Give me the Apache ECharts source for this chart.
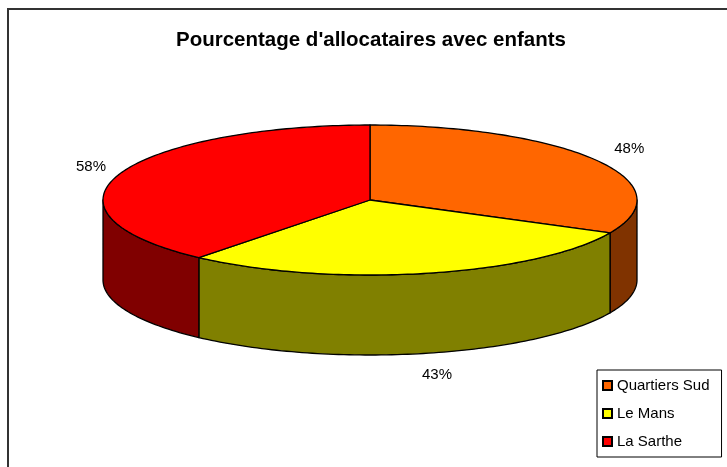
<!DOCTYPE html>
<html>
<head>
<meta charset="utf-8">
<script src="https://cdn.jsdelivr.net/npm/echarts@6/dist/echarts.min.js"></script>
<style>
  html, body { margin: 0; padding: 0; background: #fff; }
  #chart { width: 727px; height: 467px; }
</style>
</head>
<body>
<div id="chart"></div>
<script>
const categories = ['Quartiers Sud', 'Le Mans', 'La Sarthe'];
const values = [48, 43, 58];
const labels = ['48%', '43%', '58%'];
const topColors = ['#ff6600', '#ffff00', '#ff0000'];
const sideColors = ['#803300', '#808000', '#800000'];

// thickness of the disc, in units of the vertical radius
const DEPTH = 80 / 75;
const total = values.reduce((a, b) => a + b, 0);

function arcPoints(api, from, to, dy) {
    let pts = [];
    let steps = Math.max(2, Math.ceil((to - from) / 0.02));
    for (let i = 0; i <= steps; ++i) {
        let th = from + (to - from) * i / steps;
        pts.push(api.coord([Math.sin(th), Math.cos(th) + dy]));
    }
    return pts;
}

function makeRenderItem(idx) {
    return function (params, api) {
        let a0 = api.value(0) / total * Math.PI * 2;
        let a1 = api.value(1) / total * Math.PI * 2;
        let children = [];
        let lineStyle = { stroke: '#000', lineWidth: 1.3, lineJoin: 'round' };

        // front wall
        let s = Math.max(a0, Math.PI / 2), e = Math.min(a1, Math.PI * 3 / 2);
        if (s < e) {
            let pts = arcPoints(api, s, e, 0).concat(arcPoints(api, s, e, -DEPTH).reverse());
            children.push({
                type: 'polygon',
                shape: { points: pts },
                style: Object.assign({ fill: sideColors[idx] }, lineStyle)
            });
        }

        // top face
        let top = [api.coord([0, 0])].concat(arcPoints(api, a0, a1, 0));
        children.push({
            type: 'polygon',
            shape: { points: top },
            style: Object.assign({ fill: topColors[idx] }, lineStyle)
        });

        // label outside the slice
        let m = (a0 + a1) / 2;
        let front = Math.cos(m) < 0;
        let p = api.coord([Math.sin(m), Math.cos(m) + (front ? -DEPTH : 0)]);
        children.push({
            type: 'text',
            x: p[0] + Math.sin(m) * 34 + 4,
            y: p[1] - Math.cos(m) * 22,
            style: {
                text: labels[idx],
                fill: '#000',
                font: '15px "Liberation Sans", Arial, sans-serif',
                align: 'center',
                verticalAlign: 'middle'
            }
        });
        return { type: 'group', children: children };
    };
}

let series = [];
let start = 0;
for (let i = 0; i < categories.length; ++i) {
    series.push({
        name: categories[i],
        type: 'custom',
        coordinateSystem: 'cartesian2d',
        clip: false,
        silent: true,
        itemStyle: { color: topColors[i], borderColor: '#000', borderWidth: 1 },
        renderItem: makeRenderItem(i),
        data: [[start, start + values[i]]],
    });
    start += values[i];
}

let myChart = echarts.init(document.getElementById('chart'));
myChart.setOption({
    animation: false,
    title: {
        text: "Pourcentage d'allocataires avec enfants",
        left: 176,
        top: 30,
        padding: 0,
        textStyle: {
            fontFamily: '"Liberation Sans", Arial, sans-serif',
            fontSize: 20.5,
            fontWeight: 'bold',
            color: '#000'
        }
    },
    grid: { left: 103, right: 90, top: 125, bottom: 112 },
    xAxis: { type: 'value', min: -1, max: 1, show: false },
    yAxis: { type: 'value', min: -1 - DEPTH, max: 1, show: false },
    legend: {
        orient: 'vertical',
        left: 597,
        top: 370,
        padding: [8, 12, 8, 5],
        itemGap: 13,
        itemWidth: 9,
        itemHeight: 9,
        icon: 'rect',
        borderColor: '#000',
        borderWidth: 1,
        selectedMode: false,
        textStyle: {
            fontFamily: '"Liberation Sans", Arial, sans-serif',
            fontSize: 15,
            color: '#000'
        },
        data: categories
    },
    graphic: [{
        type: 'rect',
        shape: { x: 8, y: 9, width: 740, height: 480 },
        style: { fill: 'none', stroke: '#333', lineWidth: 2 },
        silent: true
    }],
    series: series
});
</script>
</body>
</html>
